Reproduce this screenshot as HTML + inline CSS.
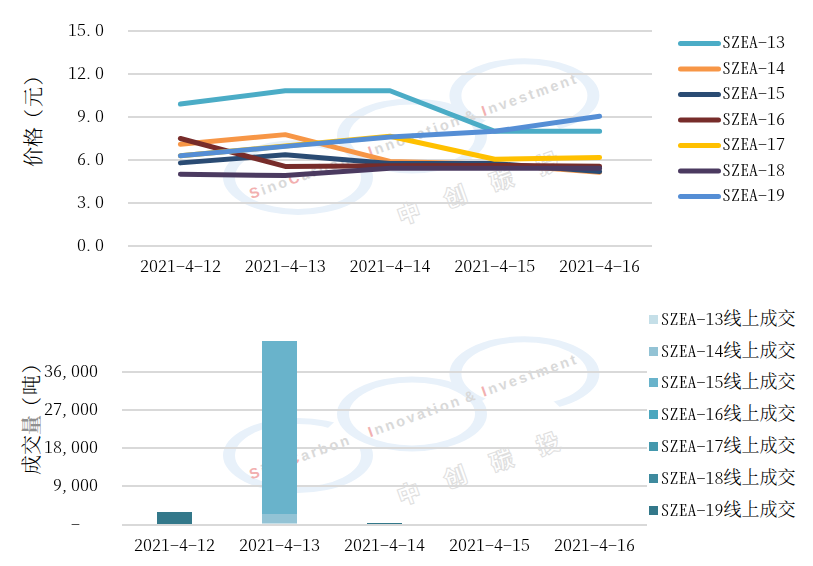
<!DOCTYPE html>
<html><head><meta charset="utf-8"><style>
html,body{margin:0;padding:0;background:#fff;}
body{width:813px;height:566px;position:relative;overflow:hidden;}
svg{position:absolute;left:0;top:0;}
.t{position:absolute;white-space:pre;font-family:"Noto Serif CJK SC","Liberation Serif",serif;font-weight:300;font-size:18px;line-height:20px;color:#000;font-feature-settings:"hwid";}
.a{display:inline-block;transform:scaleY(0.857);transform-origin:0 17.78px;}
.p{position:relative;left:-2px;}
.r{position:absolute;width:0;height:0;font-family:"Noto Serif CJK SC",serif;font-weight:300;font-size:20px;line-height:20px;white-space:nowrap;color:#000;}
.r span{position:absolute;left:0;top:0;transform:translate(-50%,-50%) rotate(-90deg);}
.r i{font-style:normal;position:relative;}
.r .ol{left:-2px;}
.r .or{left:1.4px;}
.r .g{color:#909090;font-weight:700;}
</style></head><body>
<svg width="813" height="566" viewBox="0 0 813 566">
<g transform="translate(0,-278)"><mask id="mL280" maskUnits="userSpaceOnUse" x="0" y="0" width="813" height="566"><rect x="0" y="0" width="813" height="566" fill="#fff"/><polygon points="298.0,455.4 355.3,402.7 362.7,404.9 369.8,407.3 376.5,410.0 382.9,413.0 388.7,416.1 394.2,419.5 399.1,423.1 403.5,426.8 407.3,430.6 410.6,434.6 413.3,438.7 415.4,442.9" fill="#000"/></mask><path d="M223.0,455.4 a75,37.5 0 1,0 150,0 a75,37.5 0 1,0 -150,0 Z M235.0,455.4 a63,31.5 0 1,0 126,0 a63,31.5 0 1,0 -126,0 Z" fill="#e8f1fa" fill-rule="evenodd" mask="url(#mL280)"/><path d="M337.0,413.9 a75,37.5 0 1,0 150,0 a75,37.5 0 1,0 -150,0 Z M349.0,413.9 a63,31.5 0 1,0 126,0 a63,31.5 0 1,0 -126,0 Z" fill="#e8f1fa" fill-rule="evenodd"/><mask id="mR280" maskUnits="userSpaceOnUse" x="0" y="0" width="813" height="566"><rect x="0" y="0" width="813" height="566" fill="#fff"/><polygon points="524.4,373.7 580.7,426.7 570.3,429.1 559.5,431.1 548.3,432.5 536.9,433.4 525.4,433.7 513.9,433.5 502.5,432.7 491.3,431.4 480.4,429.5 469.9,427.2 459.9,424.3 450.5,421.0" fill="#000"/></mask><path d="M449.4,373.7 a75,37.5 0 1,0 150,0 a75,37.5 0 1,0 -150,0 Z M461.4,373.7 a63,31.5 0 1,0 126,0 a63,31.5 0 1,0 -126,0 Z" fill="#e8f1fa" fill-rule="evenodd" mask="url(#mR280)"/></g><g transform="translate(0,-280.5)"><g transform="translate(251.5,479.5) rotate(-19.6)"><text y="0" font-family="Liberation Sans, sans-serif" font-size="14.5" font-weight="bold" letter-spacing="2.5" fill="#d9d9d9"><tspan x="0" fill="#f2b0b0">S</tspan>ino<tspan fill="#f2b0b0">C</tspan>arbon <tspan x="126" fill="#f2b0b0">I</tspan>nnovation <tspan x="228">&amp;</tspan> <tspan x="246.6" fill="#f2b0b0">I</tspan>nvestment</text></g><g transform="translate(408.7,493.6) rotate(-19.6)"><text x="0 49.3 98.6 147.9" y="8.5" text-anchor="middle" font-family="Noto Sans CJK SC, sans-serif" font-weight="900" font-size="23" fill="none" stroke="#dedede" stroke-width="1">中创碳投</text></g></g>
<g transform="translate(0,0)"><mask id="mL0" maskUnits="userSpaceOnUse" x="0" y="0" width="813" height="566"><rect x="0" y="0" width="813" height="566" fill="#fff"/><polygon points="298.0,455.4 355.3,402.7 362.7,404.9 369.8,407.3 376.5,410.0 382.9,413.0 388.7,416.1 394.2,419.5 399.1,423.1 403.5,426.8 407.3,430.6 410.6,434.6 413.3,438.7 415.4,442.9" fill="#000"/></mask><path d="M223.0,455.4 a75,37.5 0 1,0 150,0 a75,37.5 0 1,0 -150,0 Z M235.0,455.4 a63,31.5 0 1,0 126,0 a63,31.5 0 1,0 -126,0 Z" fill="#e8f1fa" fill-rule="evenodd" mask="url(#mL0)"/><path d="M337.0,413.9 a75,37.5 0 1,0 150,0 a75,37.5 0 1,0 -150,0 Z M349.0,413.9 a63,31.5 0 1,0 126,0 a63,31.5 0 1,0 -126,0 Z" fill="#e8f1fa" fill-rule="evenodd"/><mask id="mR0" maskUnits="userSpaceOnUse" x="0" y="0" width="813" height="566"><rect x="0" y="0" width="813" height="566" fill="#fff"/><polygon points="524.4,373.7 580.7,426.7 570.3,429.1 559.5,431.1 548.3,432.5 536.9,433.4 525.4,433.7 513.9,433.5 502.5,432.7 491.3,431.4 480.4,429.5 469.9,427.2 459.9,424.3 450.5,421.0" fill="#000"/></mask><path d="M449.4,373.7 a75,37.5 0 1,0 150,0 a75,37.5 0 1,0 -150,0 Z M461.4,373.7 a63,31.5 0 1,0 126,0 a63,31.5 0 1,0 -126,0 Z" fill="#e8f1fa" fill-rule="evenodd" mask="url(#mR0)"/></g><g transform="translate(0,0)"><g transform="translate(251.5,479.5) rotate(-19.6)"><text y="0" font-family="Liberation Sans, sans-serif" font-size="14.5" font-weight="bold" letter-spacing="2.5" fill="#d9d9d9"><tspan x="0" fill="#f2b0b0">S</tspan>ino<tspan fill="#f2b0b0">C</tspan>arbon <tspan x="126" fill="#f2b0b0">I</tspan>nnovation <tspan x="228">&amp;</tspan> <tspan x="246.6" fill="#f2b0b0">I</tspan>nvestment</text></g><g transform="translate(408.7,493.6) rotate(-19.6)"><text x="0 49.3 98.6 147.9" y="8.5" text-anchor="middle" font-family="Noto Sans CJK SC, sans-serif" font-weight="900" font-size="23" fill="none" stroke="#dedede" stroke-width="1">中创碳投</text></g></g>
<rect x="128" y="30" width="524" height="2" fill="#d9d9d9"/>
<rect x="128" y="73" width="524" height="2" fill="#d9d9d9"/>
<rect x="128" y="116" width="524" height="2" fill="#d9d9d9"/>
<rect x="128" y="159" width="524" height="2" fill="#d9d9d9"/>
<rect x="128" y="202" width="524" height="2" fill="#d9d9d9"/>
<rect x="128" y="245" width="524" height="2" fill="#d9d9d9"/>
<polyline points="180.4,104.10 285.2,90.77 390.0,90.77 494.8,131.33 599.6,131.33" fill="none" stroke="#4bacc6" stroke-width="5" stroke-linecap="round" stroke-linejoin="round"/>
<polyline points="180.4,144.23 285.2,134.63 390.0,161.43 494.8,164.30 599.6,172.18" fill="none" stroke="#f79646" stroke-width="5" stroke-linecap="round" stroke-linejoin="round"/>
<polyline points="180.4,162.87 285.2,154.84 390.0,163.44 494.8,163.58 599.6,171.61" fill="none" stroke="#2a4b73" stroke-width="5" stroke-linecap="round" stroke-linejoin="round"/>
<polyline points="180.4,138.50 285.2,166.45 390.0,165.73 494.8,165.45 599.6,166.31" fill="none" stroke="#772c2a" stroke-width="5" stroke-linecap="round" stroke-linejoin="round"/>
<polyline points="180.4,155.70 285.2,146.10 390.0,136.21 494.8,159.28 599.6,157.42" fill="none" stroke="#ffc000" stroke-width="5" stroke-linecap="round" stroke-linejoin="round"/>
<polyline points="180.4,174.33 285.2,175.48 390.0,168.31 494.8,168.31 599.6,168.31" fill="none" stroke="#4b3a60" stroke-width="5" stroke-linecap="round" stroke-linejoin="round"/>
<polyline points="180.4,155.70 285.2,146.38 390.0,137.07 494.8,131.33 599.6,116.28" fill="none" stroke="#558ed5" stroke-width="5" stroke-linecap="round" stroke-linejoin="round"/>
<line x1="680.5" y1="43.5" x2="718.5" y2="43.5" stroke="#4bacc6" stroke-width="5" stroke-linecap="round"/>
<line x1="680.5" y1="69.0" x2="718.5" y2="69.0" stroke="#f79646" stroke-width="5" stroke-linecap="round"/>
<line x1="680.5" y1="94.5" x2="718.5" y2="94.5" stroke="#2a4b73" stroke-width="5" stroke-linecap="round"/>
<line x1="680.5" y1="120.0" x2="718.5" y2="120.0" stroke="#772c2a" stroke-width="5" stroke-linecap="round"/>
<line x1="680.5" y1="145.5" x2="718.5" y2="145.5" stroke="#ffc000" stroke-width="5" stroke-linecap="round"/>
<line x1="680.5" y1="171.0" x2="718.5" y2="171.0" stroke="#4b3a60" stroke-width="5" stroke-linecap="round"/>
<line x1="680.5" y1="196.5" x2="718.5" y2="196.5" stroke="#558ed5" stroke-width="5" stroke-linecap="round"/>
<rect x="122" y="371" width="525" height="2" fill="#d9d9d9"/>
<rect x="122" y="409" width="525" height="2" fill="#d9d9d9"/>
<rect x="122" y="447" width="525" height="2" fill="#d9d9d9"/>
<rect x="122" y="485" width="525" height="2" fill="#d9d9d9"/>
<rect x="122" y="524" width="525" height="2" fill="#d9d9d9"/>
<rect x="157.0" y="512" width="35" height="12" fill="#33788a"/>
<rect x="262.0" y="523" width="35" height="1" fill="#c5dfe8"/>
<rect x="262.0" y="514" width="35" height="9" fill="#93c3d5"/>
<rect x="262.0" y="341" width="35" height="173" fill="#69b3cb"/>
<rect x="367.0" y="523" width="35" height="1" fill="#33788a"/>
<rect x="649" y="315" width="9" height="9" fill="#c5dfe8"/>
<rect x="649" y="347" width="9" height="9" fill="#93c3d5"/>
<rect x="649" y="378" width="9" height="9" fill="#69b3cb"/>
<rect x="649" y="410" width="9" height="9" fill="#4ba7bf"/>
<rect x="649" y="442" width="9" height="9" fill="#4498ad"/>
<rect x="649" y="474" width="9" height="9" fill="#3e8a9e"/>
<rect x="649" y="506" width="9" height="9" fill="#33788a"/>
</svg>
<div class="t" style="left:722.00px;top:30.32px"><span class="a">SZEA-13</span></div>
<div class="t" style="left:722.00px;top:55.82px"><span class="a">SZEA-14</span></div>
<div class="t" style="left:722.00px;top:81.32px"><span class="a">SZEA-15</span></div>
<div class="t" style="left:722.00px;top:106.82px"><span class="a">SZEA-16</span></div>
<div class="t" style="left:722.00px;top:132.32px"><span class="a">SZEA-17</span></div>
<div class="t" style="left:722.00px;top:157.82px"><span class="a">SZEA-18</span></div>
<div class="t" style="left:722.00px;top:183.32px"><span class="a">SZEA-19</span></div>
<div class="t" style="left:68.00px;top:18.32px"><span class="a">15<span class="p">.</span>0</span></div>
<div class="t" style="left:68.00px;top:61.32px"><span class="a">12<span class="p">.</span>0</span></div>
<div class="t" style="left:77.00px;top:104.32px"><span class="a">9<span class="p">.</span>0</span></div>
<div class="t" style="left:77.00px;top:147.32px"><span class="a">6<span class="p">.</span>0</span></div>
<div class="t" style="left:77.00px;top:190.32px"><span class="a">3<span class="p">.</span>0</span></div>
<div class="t" style="left:77.00px;top:233.32px"><span class="a">0<span class="p">.</span>0</span></div>
<div class="t" style="left:139.90px;top:254.12px"><span class="a">2021-4-12</span></div>
<div class="t" style="left:244.70px;top:254.12px"><span class="a">2021-4-13</span></div>
<div class="t" style="left:349.50px;top:254.12px"><span class="a">2021-4-14</span></div>
<div class="t" style="left:454.30px;top:254.12px"><span class="a">2021-4-15</span></div>
<div class="t" style="left:559.10px;top:254.12px"><span class="a">2021-4-16</span></div>
<div class="r" style="left:33.3px;top:117.2px"><span>价格<i class="ol">（</i>元<i class="or">）</i></span></div>
<div class="t" style="left:660.50px;top:307.42px"><span class="a">SZEA-13</span>线上成交</div>
<div class="t" style="left:660.50px;top:339.42px"><span class="a">SZEA-14</span>线上成交</div>
<div class="t" style="left:660.50px;top:370.42px"><span class="a">SZEA-15</span>线上成交</div>
<div class="t" style="left:660.50px;top:402.42px"><span class="a">SZEA-16</span>线上成交</div>
<div class="t" style="left:660.50px;top:434.42px"><span class="a">SZEA-17</span>线上成交</div>
<div class="t" style="left:660.50px;top:466.42px"><span class="a">SZEA-18</span>线上成交</div>
<div class="t" style="left:660.50px;top:498.42px"><span class="a">SZEA-19</span>线上成交</div>
<div class="t" style="left:44.00px;top:359.02px"><span class="a">36<span class="p">,</span>000</span></div>
<div class="t" style="left:44.00px;top:397.02px"><span class="a">27<span class="p">,</span>000</span></div>
<div class="t" style="left:44.00px;top:435.02px"><span class="a">18<span class="p">,</span>000</span></div>
<div class="t" style="left:53.00px;top:473.02px"><span class="a">9<span class="p">,</span>000</span></div>
<div class="t" style="left:71.00px;top:512.02px"><span class="a">-  </span></div>
<div class="t" style="left:134.00px;top:533.12px"><span class="a">2021-4-12</span></div>
<div class="t" style="left:239.00px;top:533.12px"><span class="a">2021-4-13</span></div>
<div class="t" style="left:344.00px;top:533.12px"><span class="a">2021-4-14</span></div>
<div class="t" style="left:449.00px;top:533.12px"><span class="a">2021-4-15</span></div>
<div class="t" style="left:554.00px;top:533.12px"><span class="a">2021-4-16</span></div>
<div class="r" style="left:31.05px;top:415.1px"><span>成交<i class="g">量</i><i class="ol">（</i>吨<i class="or">）</i></span></div>
</body></html>
